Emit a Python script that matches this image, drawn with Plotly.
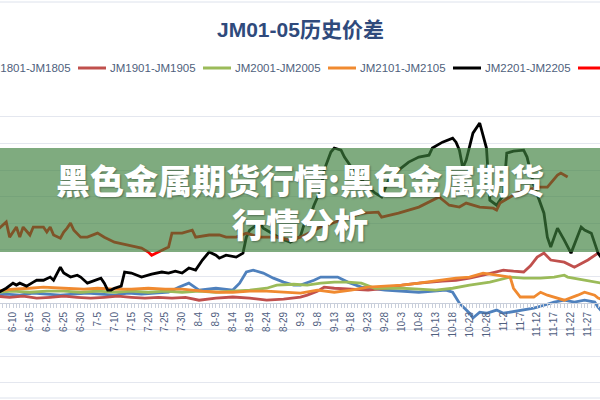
import plotly.graph_objects as go

YEAR = 2022

TICK_LABELS = ["6-5", "6-10", "6-15", "6-20", "6-25", "6-30", "7-5", "7-10", "7-15", "7-20",
               "7-25", "7-30", "8-4", "8-9", "8-14", "8-19", "8-24", "8-29", "9-3", "9-8",
               "9-13", "9-18", "9-23", "9-28", "10-3", "10-8", "10-13", "10-18", "10-23",
               "10-28", "11-2", "11-7", "11-12", "11-17", "11-22", "11-27"]

SERIES_NAMES = ["JM1801-JM1805", "JM1901-JM1905", "JM2001-JM2005",
                "JM2101-JM2105", "JM2201-JM2205", "JM2301-JM2305"]
SERIES_COLORS = ["#4F81BD", "#C0504D", "#9BBB59", "#F08A30", "#000000", "#FF0000"]

jm1801_dates = ["6-5", "6-8", "6-12", "6-16", "6-20", "6-24", "6-28", "7-2", "7-6", "7-10", "7-14",
                "7-18", "7-22", "7-26", "7-29", "8-1", "8-4", "8-9", "8-14", "8-16", "8-18", "8-20",
                "8-23", "8-26", "8-29", "9-1", "9-3", "9-7", "9-9", "9-14", "9-17", "9-21", "9-28",
                "10-8", "10-16", "10-18", "10-20", "10-23", "10-24", "10-26", "10-28", "10-31",
                "11-2", "11-4", "11-7", "11-11", "11-14", "11-17", "11-20", "11-23", "11-26",
                "11-29", "11-30", "12-1"]
jm1801_values = [30, 34, 30, 38, 34, 30, 34, 38, 34, 30, 38, 34, 38, 41, 60, 75, 49, 56, 49, 75, 117,
                 124, 113, 94, 79, 68, 68, 86, 98, 98, 79, 60, 49, 41, 49, 41, 0, -38, -56, -34, -38,
                 -26, -38, -34, -26, -19, -8, 4, 11, 4, 11, 4, -15, -30]

jm1901_dates = ["6-5", "6-9", "6-13", "6-17", "6-21", "6-25", "6-29", "7-3", "7-7", "7-11", "7-15",
                "7-19", "7-23", "7-27", "7-31", "8-4", "8-9", "8-14", "8-19", "8-24", "8-29", "9-3",
                "9-5", "9-8", "9-10", "9-13", "9-18", "9-23", "9-28", "10-3", "10-8", "10-11",
                "10-15", "10-19", "10-23", "10-27", "11-2", "11-5", "11-8", "11-10", "11-12",
                "11-14", "11-16", "11-20", "11-23", "11-27", "11-30", "12-1"]
jm1901_values = [26, 22, 26, 19, 22, 26, 22, 19, 22, 26, 22, 19, 22, 19, 22, 11, 19, 23, 19, 11, 15,
                 23, 30, 45, 60, 56, 53, 49, 56, 68, 75, 79, 83, 86, 94, 105, 124, 120, 117, 140, 173,
                 188, 162, 154, 135, 162, 188, 180]

jm2001_dates = ["6-5", "6-10", "6-15", "6-20", "6-25", "6-30", "7-5", "7-10", "7-15", "7-20", "7-25",
                "7-30", "8-4", "8-9", "8-14", "8-19", "8-24", "8-27", "9-1", "9-5", "9-9", "9-13",
                "9-17", "9-21", "9-25", "10-3", "10-8", "10-13", "10-18", "10-23", "10-29", "11-4",
                "11-8", "11-13", "11-17", "11-20", "11-21", "11-26", "11-30", "12-1"]
jm2001_values = [41, 45, 41, 45, 45, 41, 45, 41, 45, 41, 45, 41, 45, 41, 45, 49, 56, 68, 71, 68, 75,
                 79, 79, 75, 56, 56, 53, 49, 56, 68, 79, 98, 94, 94, 98, 105, 98, 86, 75, 75]

jm2101_dates = ["6-5", "6-10", "6-15", "6-19", "6-25", "7-1", "7-5", "7-10", "7-15", "7-20", "7-25",
                "7-30", "8-5", "8-10", "8-14", "8-19", "8-24", "8-29", "9-3", "9-8", "9-13", "9-18",
                "9-23", "9-28", "10-3", "10-8", "10-14", "10-19", "10-23", "10-27", "10-31", "11-4",
                "11-5", "11-7", "11-11", "11-13", "11-15", "11-18", "11-20", "11-24", "11-26",
                "11-29", "11-30", "12-1"]
jm2101_values = [45, 53, 56, 60, 56, 53, 56, 53, 53, 56, 53, 53, 45, 41, 41, 45, 45, 41, 38, 49, 41,
                 49, 60, 64, 68, 75, 86, 94, 98, 113, 105, 98, 56, 23, 23, 41, 30, 19, 11, 30, 41, 30,
                 19, 15]

jm2201_dates = ["6-5", "6-6", "6-8", "6-10", "6-11", "6-12", "6-14", "6-16", "6-17", "6-19", "6-21",
                "6-22", "6-24", "6-25", "6-27", "6-29", "6-30", "7-2", "7-4", "7-6", "7-7", "7-8",
                "7-9", "7-10", "7-12", "7-13", "7-15", "7-17", "7-18", "7-21", "7-24", "7-26",
                "7-28", "7-30", "8-1", "8-3", "8-5", "8-7", "8-9", "8-10", "8-12", "8-15", "8-17",
                "8-18", "8-19", "8-21", "8-22", "8-23", "8-25", "8-28", "8-31", "9-3", "9-4", "9-6",
                "9-7", "9-9", "9-10", "9-12", "9-13", "9-15", "9-16", "9-19", "9-22", "9-25", "9-27",
                "9-28", "9-29", "10-2", "10-5", "10-8", "10-11", "10-12", "10-15", "10-18", "10-19",
                "10-20", "10-21", "10-22", "10-24", "10-26", "10-27", "10-28", "10-29", "10-31",
                "11-2", "11-3", "11-5", "11-8", "11-9", "11-11", "11-14", "11-15", "11-16", "11-18",
                "11-20", "11-22", "11-25", "11-26", "11-28", "11-29", "11-30", "12-1"]
jm2201_values = [35, 41, 56, 75, 68, 75, 64, 79, 86, 86, 98, 86, 135, 113, 98, 105, 98, 75, 86, 94,
                 75, 49, 49, 56, 64, 117, 113, 102, 98, 109, 117, 113, 120, 113, 132, 124, 162, 192,
                 180, 169, 180, 173, 188, 248, 274, 293, 301, 282, 267, 244, 229, 252, 293, 331, 368,
                 425, 500, 568, 583, 575, 549, 493, 451, 414, 399, 432, 462, 500, 530, 549, 556, 583,
                 605, 620, 605, 575, 508, 538, 639, 677, 624, 583, 387, 368, 406, 564, 571, 575, 549,
                 444, 338, 248, 211, 282, 237, 188, 286, 275, 263, 226, 188, 170]

jm2301_dates = ["6-5", "6-6", "6-8", "6-9", "6-11", "6-12", "6-13", "6-15", "6-16", "6-19", "6-20",
                "6-21", "6-22", "6-24", "6-25", "6-26", "6-27", "6-28", "6-30", "7-2", "7-5", "7-7",
                "7-10", "7-14", "7-18", "7-20", "7-21", "7-23", "7-26", "7-27", "7-30", "8-2", "8-3",
                "8-7", "8-10", "8-12", "8-15", "8-18", "8-22", "8-27", "8-31", "9-3", "9-9", "9-15",
                "9-21", "9-26", "9-27", "10-2", "10-8", "10-14", "10-17", "10-20", "10-22", "10-26",
                "10-30", "10-31", "11-1", "11-6", "11-12", "11-15", "11-18", "11-19", "11-21"]
jm2301_values = [270, 282, 305, 248, 286, 248, 286, 256, 286, 286, 267, 286, 256, 244, 267, 282, 301,
                 274, 248, 248, 263, 248, 229, 218, 207, 192, 180, 192, 211, 263, 263, 274, 248, 256,
                 256, 248, 248, 263, 248, 248, 237, 248, 286, 312, 338, 342, 323, 338, 361, 399, 368,
                 361, 376, 361, 357, 350, 376, 414, 436, 436, 481, 489, 474]

SERIES_DATES = [jm1801_dates, jm1901_dates, jm2001_dates, jm2101_dates, jm2201_dates, jm2301_dates]
SERIES_VALUES = [jm1801_values, jm1901_values, jm2001_values, jm2101_values, jm2201_values,
                 jm2301_values]

TITLE = "JM01-05历史价差"
BANNER_TEXT = "黑色金属期货行情:黑色金属期货<br>行情分析"


def to_date(md):
    m, d = md.split("-")
    return f"{YEAR}-{int(m):02d}-{int(d):02d}"


# ---- layout geometry (pixels of the 600x400 canvas) ----
W, H = 600, 400
TOP = 90          # plot area top
PLOT_H = H - TOP


def xp(px):
    return px / W


def yp(py):
    return (H - py) / PLOT_H


LATIN = "Liberation Sans, Noto Sans CJK SC, sans-serif"
CJK = "Noto Sans CJK SC, sans-serif"

fig = go.Figure()
for name, color, ds, vs in zip(SERIES_NAMES, SERIES_COLORS, SERIES_DATES, SERIES_VALUES):
    fig.add_trace(go.Scatter(
        x=[to_date(d) for d in ds], y=vs, mode="lines", name=name,
        line=dict(color=color, width=2.8), showlegend=False))

shapes = []
annotations = []

# chart frame lines
shapes.append(dict(type="rect", xref="paper", yref="paper", x0=-0.01, x1=1.01,
                   y0=yp(398), y1=yp(2), line=dict(color="#DDE2EC", width=1),
                   fillcolor="rgba(0,0,0,0)", layer="below"))

# manual legend (the original is cropped on both sides)
LEG_Y = 68
LEG_START = -47
LEG_PITCH = 125
for i, (name, color) in enumerate(zip(SERIES_NAMES, SERIES_COLORS)):
    x0 = LEG_START + i * LEG_PITCH
    shapes.append(dict(type="line", xref="paper", yref="paper", x0=xp(x0), x1=xp(x0 + 28),
                       y0=yp(LEG_Y), y1=yp(LEG_Y), line=dict(color=color, width=3)))
    annotations.append(dict(xref="paper", yref="paper", x=xp(x0 + 30), y=yp(LEG_Y),
                            xanchor="left", yanchor="middle", text=name, showarrow=False,
                            font=dict(family=LATIN, size=11.5, color="#4F5F7D")))

# title
annotations.append(dict(xref="paper", yref="paper", x=xp(300), y=yp(29), xanchor="center",
                        yanchor="middle", text=TITLE, showarrow=False,
                        font=dict(family=LATIN, size=21, color="#2F4A7C", weight="bold")))

# green overlay banner
shapes.append(dict(type="rect", xref="paper", yref="paper", x0=-0.01, x1=1.01,
                   y0=yp(252), y1=yp(148), fillcolor="rgba(60,127,60,0.66)",
                   line=dict(width=0), layer="above"))
annotations.append(dict(xref="paper", yref="paper", x=xp(300), y=yp(201), xanchor="center",
                        yanchor="middle", text=BANNER_TEXT, showarrow=False, align="center",
                        font=dict(family=CJK, size=34, color="white", weight=900,
                                  shadow="1px 1px 2px rgba(0,0,0,0.35)")))

fig.update_layout(
    width=W, height=H, template="none",
    margin=dict(l=0, r=0, t=TOP, b=0, pad=0),
    paper_bgcolor="white", plot_bgcolor="white",
    showlegend=False,
    shapes=shapes, annotations=annotations,
    xaxis=dict(
        type="date",
        range=[f"{YEAR}-06-06 03:45", f"{YEAR}-11-30 13:40"],
        tickmode="array",
        tickvals=[to_date(t) for t in TICK_LABELS],
        ticktext=TICK_LABELS,
        tickangle=-90,
        tickfont=dict(family=LATIN, size=10, color="#50607F"),
        ticks="outside", ticklen=4, tickcolor="#C9CFDB",
        minor=dict(ticks="outside", ticklen=4, tickcolor="#C9CFDB", tickmode="linear",
                   tick0=f"{YEAR}-06-05", dtick=86400000),
        showline=True, linecolor="#C9CFDB", linewidth=1,
        showgrid=False, zeroline=False,
        anchor="free", position=yp(303), automargin=False,
        fixedrange=True,
    ),
    yaxis=dict(
        range=[-364, 801], dtick=100, tick0=0,
        showgrid=True, gridcolor="#E4E7EF", gridwidth=1,
        showticklabels=False, ticks="", zeroline=False, showline=False,
        automargin=False, fixedrange=True,
    ),
)

fig.write_html("out.html")
